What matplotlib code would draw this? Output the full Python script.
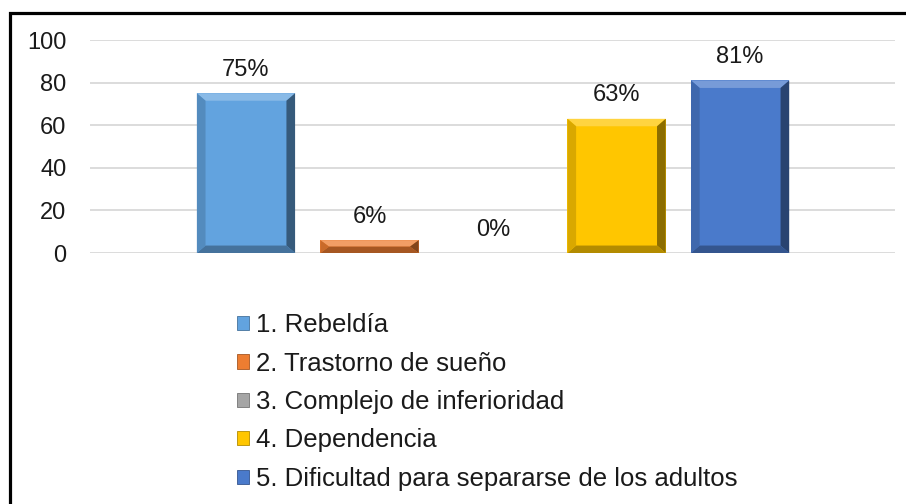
import numpy as np
import matplotlib.pyplot as plt
from matplotlib.patches import Rectangle, Polygon
import matplotlib.colors as mcolors

plt.rcParams['font.family'] = ['Liberation Sans', 'DejaVu Sans']

categorias = ['1. Rebeldía', '2. Trastorno de sueño', '3. Complejo de inferioridad',
              '4. Dependencia', '5. Dificultad para separarse de los adultos']
valores = [75, 6, 0, 63, 81]
etiquetas = ['75%', '6%', '0%', '63%', '81%']
colores = ['#62A3DF', '#ED7D31', '#A5A5A5', '#FFC600', '#4A7ACB']


def shade(c, f):
    r, g, b = mcolors.to_rgb(c)
    if f > 1:
        return tuple(x + (1 - x) * (f - 1) for x in (r, g, b))
    return (r * f, g * f, b * f)


def bevel(ax, bar, color, dx=0.07, dy=3.5):
    x0, y0 = bar.get_x(), bar.get_y()
    w, h = bar.get_width(), bar.get_height()
    if h <= 0:
        return
    dy = min(dy, h / 2)
    x1, y1 = x0 + w, y0 + h
    faces = [
        ([(x0, y1), (x1, y1), (x1 - dx, y1 - dy), (x0 + dx, y1 - dy)], shade(color, 1.25)),
        ([(x1, y1), (x1, y0), (x1 - dx, y0 + dy), (x1 - dx, y1 - dy)], shade(color, 0.55)),
        ([(x0, y0), (x1, y0), (x1 - dx, y0 + dy), (x0 + dx, y0 + dy)], shade(color, 0.7)),
        ([(x0, y1), (x0, y0), (x0 + dx, y0 + dy), (x0 + dx, y1 - dy)], shade(color, 0.85)),
    ]
    for pts, fc in faces:
        ax.add_patch(Polygon(pts, closed=True, facecolor=fc, edgecolor='none', zorder=3))


fig = plt.figure(figsize=(9.06, 5.04), dpi=100)
ax = fig.add_axes([0.0993, 0.498, 0.8887, 0.4226])

x = np.arange(len(valores))
bars = ax.bar(x, valores, width=0.795, color=colores, zorder=2)
for b, c in zip(bars, colores):
    bevel(ax, b, c)

for xi, v, t in zip(x, valores, etiquetas):
    ax.annotate(t, (xi, v), xytext=(0, 9), textcoords='offset points',
                ha='center', va='bottom', fontsize=17, color='#1a1a1a')

ax.set_xlim(-1.263, 5.255)
ax.set_ylim(0, 100)
ax.set_yticks([0, 20, 40, 60, 80, 100])
ax.set_xticks([])
ax.yaxis.grid(True, color='#D9D9D9', linewidth=1.3)
ax.set_axisbelow(True)
for s in ax.spines.values():
    s.set_visible(False)
ax.tick_params(axis='y', length=0, pad=17, labelsize=17, labelcolor='#1a1a1a')

# legend
handles = [Rectangle((0, 0), 1, 1, facecolor=c, edgecolor=shade(c, 0.7), linewidth=0.6)
           for c in colores]
leg = fig.legend(handles, categorias, loc='upper left', bbox_to_anchor=(0.2503, 0.399),
                 frameon=False, fontsize=18.5, handlelength=0.47, handleheight=0.47,
                 handletextpad=0.27, labelspacing=0.56, borderaxespad=0)
for t in leg.get_texts():
    t.set_color('#1a1a1a')

# border
fig.patches.append(Rectangle((9.5 / 906, -0.1), 1.2, 1 - 12.5 / 504 + 0.1,
                             transform=fig.transFigure, fill=False,
                             edgecolor='black', linewidth=2.3))

fig.savefig('out.png', dpi=100)
